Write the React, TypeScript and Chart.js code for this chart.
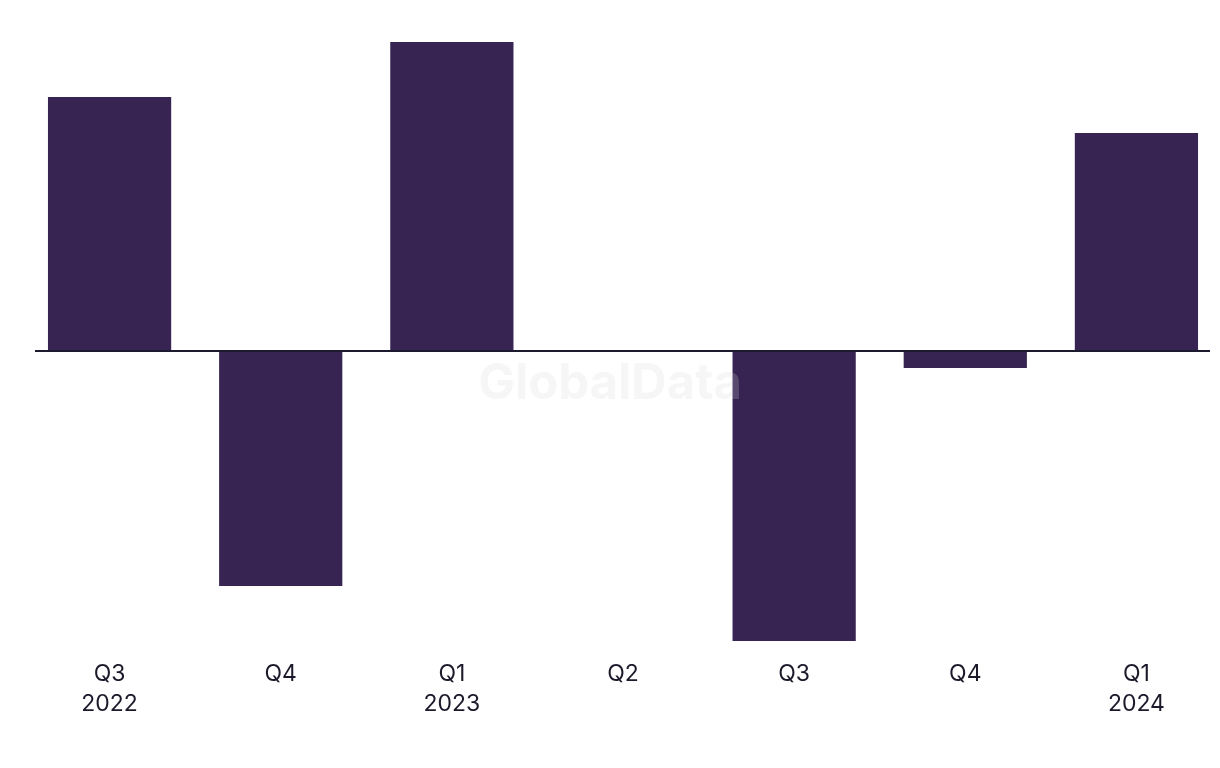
import React, { useEffect, useRef } from "react";
import { Chart, registerables } from "chart.js";

Chart.register(...registerables);

const categories: string[][] = [
  ["Q3", "2022"],
  ["Q4"],
  ["Q1", "2023"],
  ["Q2"],
  ["Q3"],
  ["Q4"],
  ["Q1", "2024"],
];
const values: number[] = [25.4, -23.5, 30.9, 0, -29.0, -1.7, 21.8];
const yMin = -29.0;
const yMax = 30.9;

const BAR_COLOR = "#372452";
const TEXT_COLOR = "#1b1a2b";

const zeroLinePlugin = {
  id: "zeroLine",
  afterDatasetsDraw(chart: any) {
    const { ctx, chartArea, scales } = chart;
    const y = scales.y.getPixelForValue(0);
    ctx.save();
    ctx.strokeStyle = "#1c1a2e";
    ctx.lineWidth = 2;
    ctx.beginPath();
    ctx.moveTo(chartArea.left + 11, y);
    ctx.lineTo(chartArea.right - 12, y);
    ctx.stroke();
    // watermark
    ctx.font = "bold 49px Inter, 'Liberation Sans', sans-serif";
    ctx.fillStyle = "rgba(215,215,215,0.22)";
    ctx.textAlign = "center";
    ctx.textBaseline = "middle";
    ctx.fillText("GlobalData", 610, 384);
    ctx.restore();
  },
};

export default function App() {
  const ref = useRef<HTMLCanvasElement | null>(null);
  useEffect(() => {
    if (!ref.current) return;
    const chart = new Chart(ref.current, {
      type: "bar",
      data: {
        labels: categories,
        datasets: [
          {
            data: values,
            backgroundColor: BAR_COLOR,
            borderWidth: 0,
            categoryPercentage: 0.8,
            barPercentage: 0.9,
          },
        ],
      },
      options: {
        responsive: false,
        animation: false,
        devicePixelRatio: 1,
        layout: { padding: { top: 42, left: 24, right: 24, bottom: 0 } },
        plugins: {
          legend: { display: false },
          tooltip: { enabled: false },
          title: { display: false },
        },
        scales: {
          x: {
            grid: { display: false, drawTicks: false },
            border: { display: false },
            ticks: {
              color: TEXT_COLOR,
              padding: 18,
              maxRotation: 0,
              autoSkip: false,
              font: { family: "Inter, 'Liberation Sans', sans-serif", size: 23, lineHeight: 1.304 },
            },
            afterFit(scale: any) {
              scale.height = 127;
            },
          },
          y: {
            display: false,
            min: yMin,
            max: yMax,
          },
        },
      },
      plugins: [zeroLinePlugin],
    });
    return () => chart.destroy();
  }, []);
  return (
    <canvas
      ref={ref}
      width={1246}
      height={768}
      style={{ position: "fixed", left: 0, top: 0, width: 1246, height: 768, display: "block", background: "#fff" }}
    />
  );
}
